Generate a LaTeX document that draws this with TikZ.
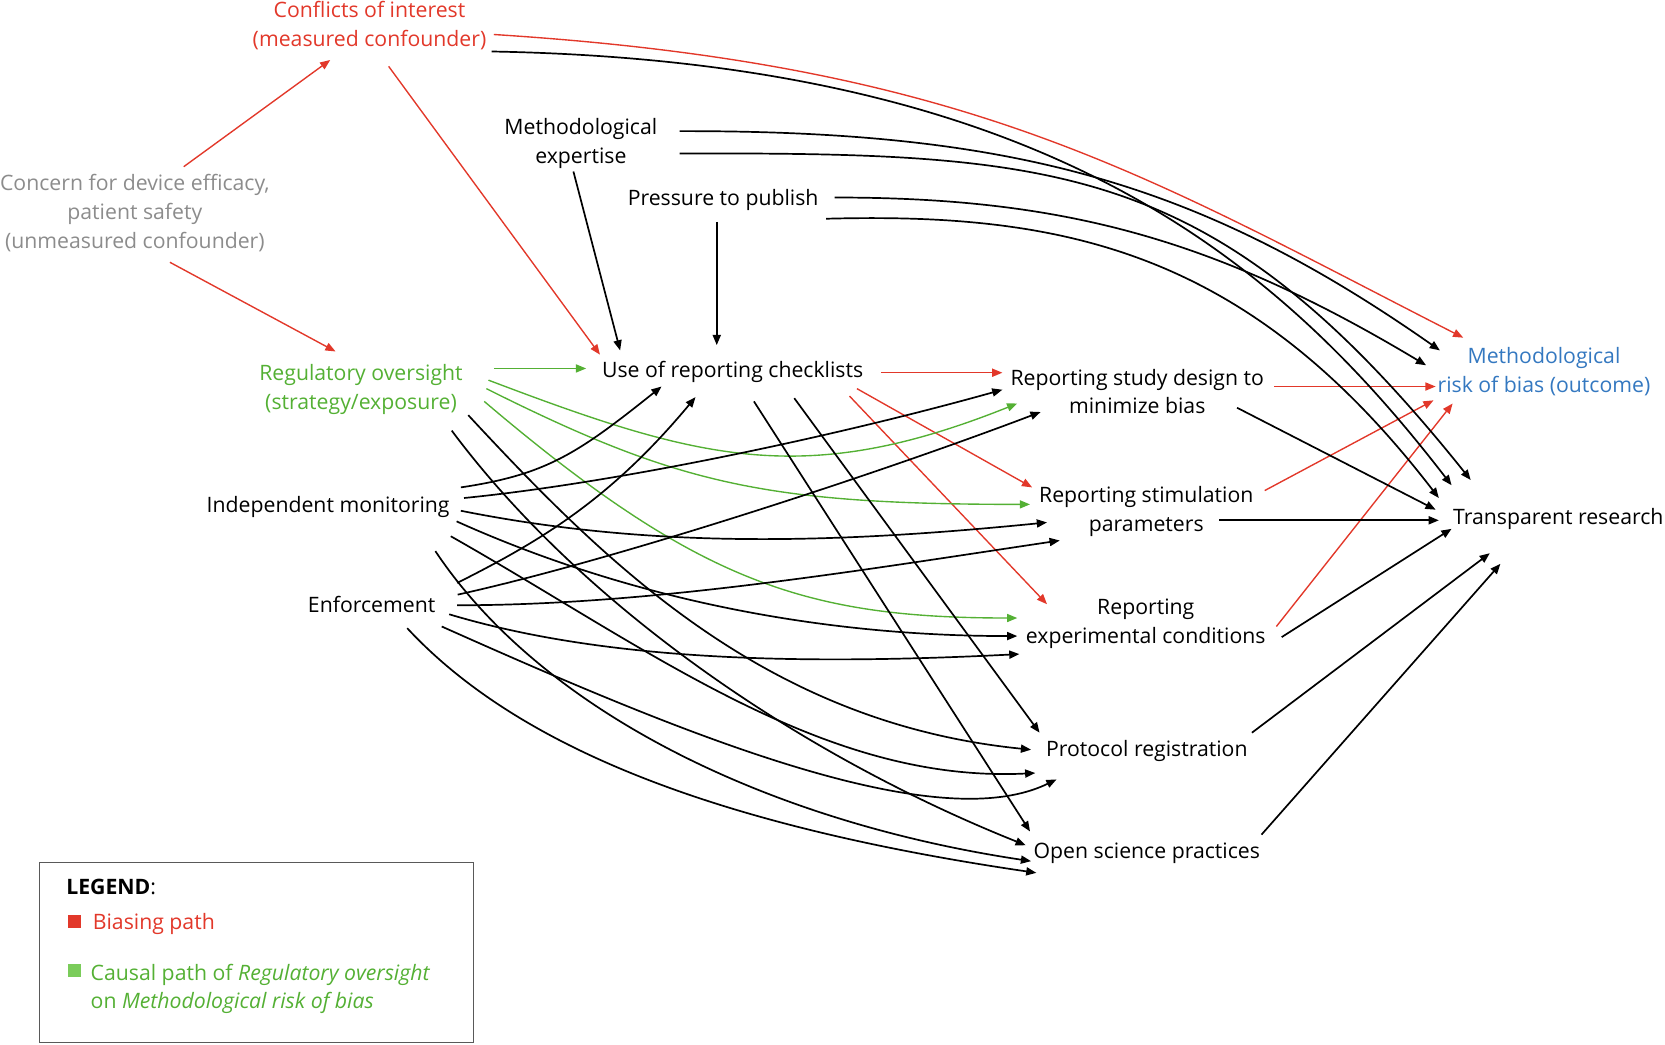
\documentclass[tikz,border=0pt]{standalone}
\usepackage{fontspec}
\setmainfont{Open Sans}
\usetikzlibrary{arrows.meta,calc}
\definecolor{cred}{RGB}{226,56,42}
\definecolor{cgreen}{RGB}{84,176,52}
\definecolor{cblue}{RGB}{52,120,192}
\definecolor{cgray}{RGB}{140,140,140}
\definecolor{lgreen}{RGB}{122,204,90}
\begin{document}
\begin{tikzpicture}[x=0.5pt,y=-0.5pt,
  lbl/.style={inner sep=0pt, text depth=0pt, align=center, font=\fontsize{10}{13.5}\selectfont},
  arr/.style={draw=black, line width=0.8pt, -{Triangle[length=4.8pt,width=3.8pt]}},
  rarr/.style={draw=cred, line width=0.65pt, -{Triangle[length=4.8pt,width=3.8pt]}},
  garr/.style={draw=cgreen, line width=0.65pt, -{Triangle[length=4.8pt,width=3.8pt]}},
  legsq/.style={inner sep=0pt, minimum size=6pt}]
\useasboundingbox (0,0) rectangle (1568,984);
% nodes
\node[lbl, text=cred] (COI) at (348,22.5) {Conflicts of interest\\(measured confounder)};
\node[lbl, text=cgray] (CON) at (127,199) {Concern for device efficacy,\\patient safety\\(unmeasured confounder)};
\node[lbl] (ME) at (547,132.5) {Methodological\\expertise};
\node[lbl] (PP) at (681,186) {Pressure to publish};
\node[lbl, text=cgreen] (REG) at (340,364.5) {Regulatory oversight\\(strategy/exposure)};
\node[lbl] (USE) at (690,348) {Use of reporting checklists};
\node[lbl] (SD) at (1071,368.5) {Reporting study design to\\minimize bias};
\node[lbl, text=cblue] (MR) at (1454,348.5) {Methodological\\risk of bias (outcome)};
\node[lbl] (IM) at (309,475) {Independent monitoring};
\node[lbl] (ST) at (1079.5,479.5) {Reporting stimulation\\parameters};
\node[lbl] (TR) at (1467.5,486) {Transparent research};
\node[lbl] (ENF) at (350,569) {Enforcement};
\node[lbl] (EX) at (1079,585) {Reporting\\experimental conditions};
\node[lbl] (PR) at (1080,705) {Protocol registration};
\node[lbl] (OS) at (1080,801) {Open science practices};
% red edges
\draw[rarr] ($(CON)+(46,-42)$) -- ($(COI)+(-37,34)$);
\draw[rarr] ($(CON)+(33,48)$) -- ($(REG)+(-24,-33.5)$);
\draw[rarr] ($(COI)+(18,40)$) -- ($(USE)+(-125,-14)$);
\draw[rarr] ($(COI)+(117,10)$) .. controls (915,61) and (1078,165) .. ($(MR)+(-76,-30.5)$);
\draw[rarr] ($(USE)+(140,3)$) -- ($(SD)+(-127,-17.5)$);
\draw[rarr] ($(USE)+(117,18)$) -- ($(ST)+(-107.5,-20.5)$);
\draw[rarr] ($(USE)+(110,25)$) -- ($(EX)+(-93,-16)$);
\draw[rarr] ($(SD)+(129,-4.5)$) -- ($(MR)+(-102,15.5)$);
\draw[rarr] ($(ST)+(111.5,-17.5)$) -- ($(MR)+(-104,28.5)$);
\draw[rarr] ($(EX)+(123,5)$) -- ($(MR)+(-86,31.5)$);
% green edges
\draw[garr] ($(REG)+(125,-17.5)$) -- ($(USE)+(-138,-1)$);
\draw[garr] ($(REG)+(120,-6.5)$) .. controls (660,434) and (758,460) .. ($(SD)+(-113,11.5)$);
\draw[garr] ($(REG)+(118,1.5)$) .. controls (638,456) and (720,475) .. ($(ST)+(-109.5,-4.5)$);
\draw[garr] ($(REG)+(116,13.5)$) .. controls (656,548) and (758,582) .. ($(EX)+(-121,-3)$);
% black edges from top
\draw[arr] ($(ME)+(-7,29)$) -- ($(USE)+(-106,-18)$);
\draw[arr] ($(PP)+(-6,23)$) -- ($(USE)+(-15,-23)$);
\draw[arr] ($(COI)+(115,26)$) .. controls (983,58) and (1202,243) .. ($(TR)+(-100.5,-29)$);
\draw[arr] ($(ME)+(93,-9)$) .. controls (952,123) and (1129,171) .. ($(MR)+(-98,-18.5)$);
\draw[arr] ($(ME)+(93,12)$) .. controls (1000,144) and (1145,152) .. ($(TR)+(-82.5,-34)$);
\draw[arr] ($(PP)+(105,0)$) .. controls (1000,186) and (1143,224) .. ($(MR)+(-111,-4.5)$);
\draw[arr] ($(PP)+(97,20)$) .. controls (1000,200) and (1175,235) .. ($(TR)+(-112.5,-17)$);
% independent monitoring
\draw[arr] ($(IM)+(125,-16)$) .. controls (514,447) and (543,428) .. ($(USE)+(-67,16)$);
\draw[arr] ($(IM)+(128,-6)$) .. controls (587,454) and (794,409) .. ($(SD)+(-127,-1.5)$);
\draw[arr] ($(IM)+(125,6)$) .. controls (614,517) and (786,512) .. ($(ST)+(-93.5,12.5)$);
\draw[arr] ($(IM)+(121,16)$) .. controls (580,558.5) and (758,599) .. ($(EX)+(-121,14)$);
\draw[arr] ($(IM)+(115.5,30)$) .. controls (610,610) and (775,738) .. ($(PR)+(-105,23)$);
\draw[arr] ($(IM)+(101,44)$) .. controls (510,669) and (721,773.5) .. ($(OS)+(-109,10)$);
% regulatory oversight (black)
\draw[arr] ($(REG)+(101,26.5)$) .. controls (571,531) and (721,681) .. ($(PR)+(-109,1)$);
\draw[arr] ($(REG)+(85.4,41)$) .. controls (545,566) and (746,708) .. ($(OS)+(-114,-5)$);
% enforcement
\draw[arr] ($(ENF)+(80.5,-20)$) .. controls (510,509) and (575,470) .. ($(USE)+(-35,26)$);
\draw[arr] ($(ENF)+(81,-9)$) .. controls (581,527) and (830,445) .. ($(SD)+(-91,19.5)$);
\draw[arr] ($(ENF)+(80.5,1)$) .. controls (610,570) and (798,539) .. ($(ST)+(-81.5,29.5)$);
\draw[arr] ($(ENF)+(73,9.5)$) .. controls (573,623.5) and (760,626) .. ($(EX)+(-119,31)$);
\draw[arr] ($(ENF)+(66,21)$) .. controls (640,690) and (880,790) .. ($(PR)+(-85,29)$);
\draw[arr] ($(ENF)+(33.5,22.6)$) .. controls (493.5,710) and (690,780) .. ($(OS)+(-104,21)$);
% use of checklists downwards
\draw[arr] ($(USE)+(58,27)$) -- ($(PR)+(-101,-15)$);
\draw[arr] ($(USE)+(20,30)$) -- ($(OS)+(-110,-18)$);
% into transparent research
\draw[arr] ($(SD)+(94,15.5)$) -- ($(TR)+(-115.5,-6)$);
\draw[arr] ($(ST)+(68.5,10.5)$) -- ($(TR)+(-112.5,4)$);
\draw[arr] ($(EX)+(128,15)$) -- ($(TR)+(-100.5,12)$);
\draw[arr] ($(PR)+(99,-15)$) -- ($(TR)+(-64.5,35)$);
\draw[arr] ($(OS)+(108,-15)$) -- ($(TR)+(-54.5,45)$);
% legend
\node[draw=black!65, line width=0.6pt, inner sep=0pt, minimum width=204.5pt, minimum height=85pt] (LEG) at (241.5,897) {};
\node[lbl, anchor=west] (LEGT) at (62,835) {\textbf{LEGEND}:};
\node[legsq, fill=cred] (SQR) at (70,868) {};
\node[lbl, anchor=west, text=cred] (LR) at (87,868) {Biasing path};
\node[legsq, fill=lgreen] (SQG) at (70,914) {};
\node[lbl, anchor=west, align=left, text=cgreen] (LG) at (85,929) {Causal path of \textit{Regulatory oversight}\\on \textit{Methodological risk of bias}};
\end{tikzpicture}
\end{document}
